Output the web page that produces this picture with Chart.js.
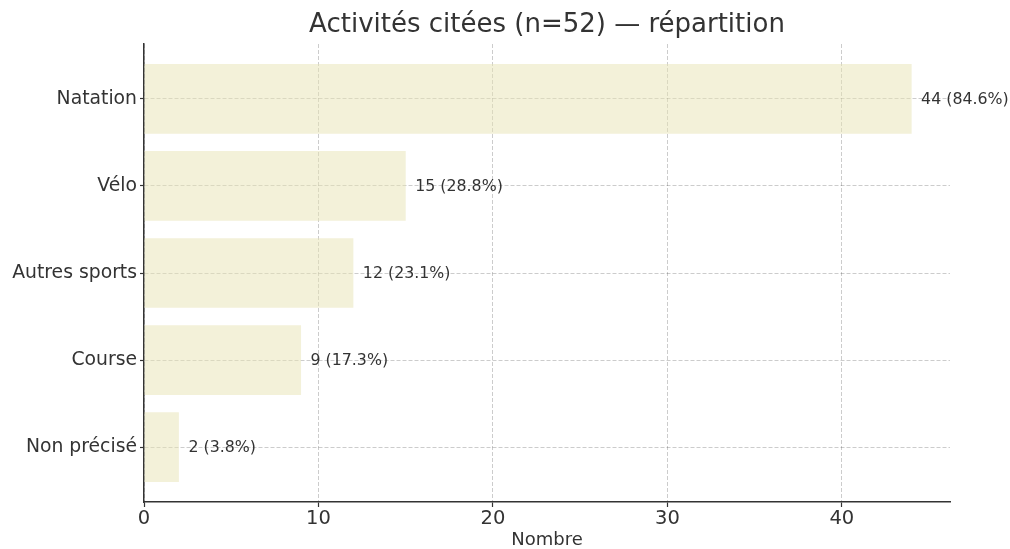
<!DOCTYPE html>
<html lang="fr">
<head>
<meta charset="utf-8">
<title>Activités citées</title>
<script src="https://cdn.jsdelivr.net/npm/chart.js@4/dist/chart.umd.min.js"></script>
<style>
  html, body { margin: 0; padding: 0; background: #ffffff; }
  #wrap { width: 1010px; height: 549px; }
</style>
</head>
<body>
<div id="wrap"><canvas id="chart" width="1010" height="549"></canvas></div>
<script>
// Activities mentioned by respondents
const categories = ['Natation', 'Vélo', 'Autres sports', 'Course', 'Non précisé'];
const counts = [44, 15, 12, 9, 2];
const respondents = 52;
const xTicks = [0, 10, 20, 30, 40];
const titleText = 'Activités citées (n=52) — répartition';

const FONT = "'DejaVu Sans', 'Liberation Sans', sans-serif";
const TEXT = '#333333';
const GRID = 'rgba(0,0,0,0.2)';

const points = counts.map((v, i) => ({ x: v, y: i }));

// Title centred over the plotting area rather than the whole canvas
const plotTitle = {
  id: 'plotTitle',
  afterDraw(chart) {
    const { ctx, chartArea } = chart;
    ctx.save();
    ctx.font = '26px ' + FONT;
    ctx.fillStyle = TEXT;
    ctx.textAlign = 'center';
    ctx.textBaseline = 'middle';
    ctx.fillText(titleText, (chartArea.left + chartArea.right) / 2, 25);
    ctx.restore();
  }
};

// Writes "n (p%)" just past the end of each bar
const valueLabels = {
  id: 'valueLabels',
  afterDatasetsDraw(chart) {
    const { ctx } = chart;
    const meta = chart.getDatasetMeta(0);
    ctx.save();
    ctx.font = '15.8px ' + FONT;
    ctx.fillStyle = TEXT;
    ctx.textAlign = 'left';
    ctx.textBaseline = 'middle';
    meta.data.forEach((bar, i) => {
      const v = counts[i];
      const pct = (v / respondents * 100).toFixed(1);
      ctx.fillText(v + ' (' + pct + '%)', bar.x + 9.5, bar.y + 1);
    });
    ctx.restore();
  }
};

new Chart(document.getElementById('chart'), {
  type: 'bar',
  data: {
    datasets: [{
      data: points,
      backgroundColor: 'rgba(232,228,180,0.5)',
      borderWidth: 0,
      barPercentage: 0.8,
      categoryPercentage: 1.0
    }]
  },
  options: {
    indexAxis: 'y',
    responsive: false,
    animation: false,
    layout: { padding: { left: 0, right: 60, top: 44, bottom: 0 } },
    plugins: {
      legend: { display: false },
      tooltip: { enabled: false },
      title: { display: false }
    },
    scales: {
      x: {
        type: 'linear',
        min: 0,
        max: 46.2,
        afterBuildTicks(scale) { scale.ticks = xTicks.map(v => ({ value: v })); },
        afterFit(scale) { scale.height = 47; },
        ticks: { color: TEXT, font: { family: FONT, size: 19.5 }, padding: 0 },
        grid: {
          color: GRID, lineWidth: 1, drawTicks: true, tickLength: 5,
          tickColor: '#333333', tickWidth: 1.2, tickBorderDash: []
        },
        border: { display: true, color: '#333333', width: 1.5, dash: [4, 2] },
        title: {
          display: true,
          text: 'Nombre',
          color: TEXT,
          font: { family: FONT, size: 18 },
          padding: { top: 0, bottom: -2 }
        }
      },
      y: {
        type: 'linear',
        reverse: true,
        offset: false,
        min: -0.63,
        max: 4.63,
        afterBuildTicks(scale) { scale.ticks = categories.map((_, i) => ({ value: i })); },
        afterFit(scale) { scale.width = 144; },
        ticks: {
          color: TEXT,
          font: { family: FONT, size: 18.8 },
          padding: 3,
          callback: (value) => categories[value] ?? ''
        },
        grid: {
          offset: false,
          color: GRID, lineWidth: 1, drawTicks: true, tickLength: 4,
          tickColor: '#333333', tickWidth: 1.2, tickBorderDash: []
        },
        border: { display: true, color: '#333333', width: 1.5, dash: [4, 2] }
      }
    }
  },
  plugins: [valueLabels, plotTitle]
});
</script>
</body>
</html>
